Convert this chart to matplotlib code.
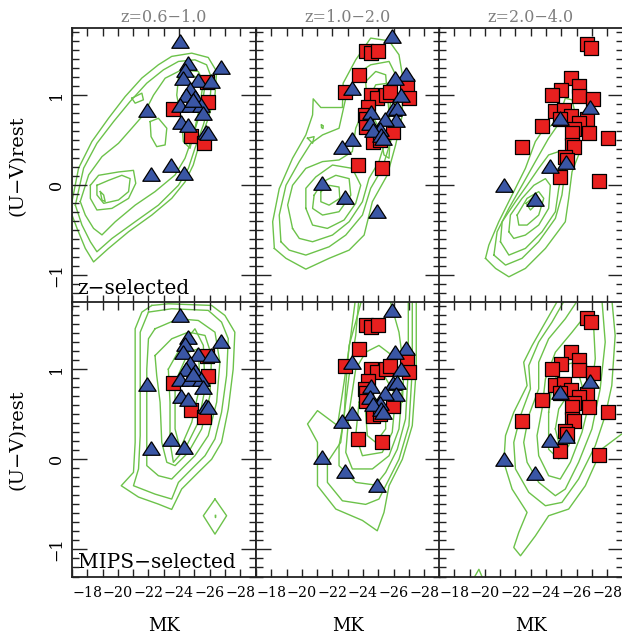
import matplotlib
matplotlib.use("Agg")
import matplotlib.pyplot as plt
from matplotlib.ticker import MultipleLocator

plt.rcParams['font.family'] = ['DejaVu Serif']

col_titles = ["z=0.6\u22121.0", "z=1.0\u22122.0", "z=2.0\u22124.0"]
row_labels = ["z\u2212selected", "MIPS\u2212selected"]

# ---- galaxies (same in both rows of a column) ----
sq_x = [
    [-25.8, -25.91, -23.63, -24.78, -25.65],
    [-24.17, -24.50, -25.00, -23.74, -22.83, -24.55, -24.93, -25.53, -25.74, -26.89,
     -27.00, -24.33, -24.11, -24.17, -24.22, -25.96, -24.65, -25.09, -23.70, -25.26],
    [-26.67, -26.96, -25.65, -26.13, -25.00, -24.39, -26.13, -27.10, -24.60, -25.20,
     -25.60, -24.90, -26.67, -26.13, -25.80, -25.70, -26.80, -23.74, -22.43, -28.04,
     -25.70, -25.80, -25.22, -25.40, -24.93, -27.48],
]
sq_y = [
    [1.15, 0.92, 0.85, 0.55, 0.47],
    [1.49, 1.47, 1.49, 1.22, 1.03, 1.00, 0.97, 1.00, 1.04, 1.10,
     0.97, 0.87, 0.78, 0.74, 0.65, 0.59, 0.48, 0.50, 0.23, 0.19],
    [1.57, 1.52, 1.19, 1.10, 1.06, 1.00, 0.99, 0.96, 0.82, 0.83,
     0.77, 0.74, 0.73, 0.69, 0.63, 0.58, 0.58, 0.66, 0.42, 0.53,
     0.45, 0.43, 0.31, 0.28, 0.09, 0.05],
]
tri_x = [
    [-24.07, -24.59, -26.77, -24.37, -24.26, -25.24, -26.11, -24.70, -24.48, -25.02,
     -24.04, -24.70, -25.46, -24.90, -21.89, -25.56, -24.16, -24.59, -25.79, -25.92,
     -22.15, -23.48, -24.35],
    [-25.91, -26.78, -26.09, -23.30, -26.46, -25.96, -26.24, -24.55, -26.18, -25.41,
     -24.44, -25.09, -24.65, -25.20, -25.30, -23.30, -22.61, -21.30, -22.83, -24.93],
    [-26.89, -24.93, -24.28, -25.30, -21.28, -23.30],
]
tri_y = [
    [1.60, 1.36, 1.31, 1.28, 1.19, 1.17, 1.16, 1.07, 1.00, 0.98,
     0.89, 0.89, 0.89, 0.95, 0.84, 0.80, 0.70, 0.67, 0.59, 0.58,
     0.13, 0.23, 0.14],
    [1.66, 1.24, 1.19, 1.08, 1.00, 0.85, 0.86, 0.81, 0.72, 0.74,
     0.69, 0.63, 0.61, 0.56, 0.52, 0.51, 0.43, 0.03, -0.13, -0.29],
    [0.87, 0.75, 0.21, 0.26, 0.00, -0.15],
]

# ---- density contours of the parent samples ----
closed_top = [
    [  # z=0.6-1.0
        [(-17, -0.18), (-17.43, 0.19), (-18.3, 0.485), (-19.39, 0.744), (-20.48, 0.985),
         (-21.57, 1.19), (-22.65, 1.337), (-23.52, 1.43), (-24.83, 1.466), (-25.91, 1.418),
         (-26.46, 1.263), (-26.35, 1.0), (-25.91, 0.744), (-25.37, 0.485), (-24.93, 0.225),
         (-24.39, 0.037), (-23.52, -0.145), (-22.22, -0.33), (-20.7, -0.515), (-19.39, -0.7),
         (-18.41, -0.85), (-17.87, -0.7), (-17.33, -0.478), (-17, -0.33)],
        [(-17.22, -0.22), (-17.76, 0.19), (-18.63, 0.466), (-19.72, 0.707), (-20.8, 0.93),
         (-21.89, 1.133), (-22.98, 1.281), (-23.96, 1.374), (-25.04, 1.392), (-25.8, 1.337),
         (-26.13, 1.188), (-26.02, 0.93), (-25.59, 0.67), (-25.04, 0.41), (-24.61, 0.188),
         (-23.96, 0.0), (-22.65, -0.22), (-21.13, -0.404), (-19.61, -0.59), (-18.63, -0.737),
         (-18.2, -0.626), (-17.65, -0.44)],
        [(-17.54, -0.18), (-18.09, 0.115), (-18.96, 0.318), (-20.04, 0.466), (-20.91, 0.633),
         (-21.67, 0.781), (-22.33, 1.0), (-23.09, 1.188), (-24.17, 1.281), (-25.26, 1.263),
         (-25.7, 1.115), (-25.48, 0.855), (-24.93, 0.559), (-24.39, 0.3), (-23.74, 0.115),
         (-22.43, -0.07), (-21.13, -0.22), (-19.83, -0.404), (-18.96, -0.55), (-18.41, -0.478),
         (-17.87, -0.33)],
        [(-18.2, 0.0), (-18.74, 0.111), (-20.04, 0.148), (-21.02, 0.166), (-21.17, 0.022),
         (-20.7, -0.145), (-19.61, -0.256), (-18.63, -0.274), (-18.2, -0.145)],
        [(-18.63, 0.0), (-19.39, 0.055), (-20.26, 0.111), (-20.8, 0.074), (-20.7, -0.07),
         (-20.04, -0.163), (-19.07, -0.2), (-18.63, -0.107)],
        [(-18.85, -0.07), (-19.07, -0.107), (-19.17, -0.18), (-18.96, -0.163)],
        [(-22.11, 0.707), (-22.65, 0.744), (-23.2, 0.633), (-23.09, 0.448), (-22.54, 0.429),
         (-22.17, 0.54)],
        [(-20.91, 0.966), (-21.57, 1.022), (-21.67, 0.948), (-21.13, 0.911)],
        [(-23.96, 1.188), (-24.83, 1.226), (-25.59, 1.151), (-25.37, 0.892), (-25.04, 0.633),
         (-24.72, 0.41), (-24.28, 0.485), (-24.17, 0.707), (-23.85, 1.0)],
    ],
    [  # z=1.0-2.0
        [(-18.2, -0.7), (-18.09, -0.404), (-18.52, -0.037), (-19.39, 0.3), (-20.26, 0.559),
         (-20.7, 0.781), (-20.74, 0.959), (-21.24, 0.863), (-22.65, 0.863), (-22.7, 1.133),
         (-23.52, 1.392), (-24.5, 1.633), (-25.7, 1.603), (-26.35, 1.448), (-26.57, 1.226),
         (-26.57, 0.781), (-26.13, 0.448), (-25.59, 0.115), (-24.61, -0.182), (-24.07, -0.552),
         (-23.09, -0.719), (-21.78, -0.81), (-20.26, -0.93), (-18.96, -0.81)],
        [(-18.63, -0.626), (-18.52, -0.33), (-18.96, 0.0), (-19.83, 0.263), (-20.59, 0.466),
         (-21.35, 0.559), (-22.43, 0.633), (-22.87, 0.966), (-23.52, 1.226), (-24.5, 1.337),
         (-25.7, 1.374), (-26.13, 1.226), (-26.13, 0.818), (-25.8, 0.485), (-25.26, 0.188),
         (-24.5, -0.033), (-23.96, -0.33), (-22.87, -0.552), (-21.78, -0.682), (-20.26, -0.774),
         (-19.17, -0.719)],
        [(-19.39, -0.478), (-19.07, -0.219), (-19.39, 0.0), (-20.26, 0.188), (-21.35, 0.263),
         (-22.43, 0.281), (-23.3, 0.374), (-23.52, 0.633), (-24.17, 0.892), (-24.83, 1.115),
         (-25.7, 1.133), (-25.8, 0.93), (-25.59, 0.559), (-25.04, 0.263), (-24.39, 0.077),
         (-23.96, -0.182), (-23.09, -0.404), (-22.0, -0.552), (-20.7, -0.626), (-19.83, -0.589)],
        [(-20.26, -0.256), (-20.26, -0.033), (-20.91, 0.093), (-22.0, 0.225), (-23.3, 0.188),
         (-23.85, 0.0), (-23.52, -0.2), (-22.76, -0.385), (-21.67, -0.478), (-20.7, -0.441)],
        [(-20.8, -0.11), (-21.35, 0.037), (-22.22, 0.111), (-23.09, 0.074), (-23.2, -0.11),
         (-22.43, -0.293), (-21.35, -0.33), (-20.7, -0.256)],
        [(-21.24, -0.07), (-21.78, 0.0), (-22.43, -0.019), (-22.48, -0.145), (-21.78, -0.22),
         (-21.24, -0.182)],
        [(-24.17, 1.151), (-24.83, 1.263), (-25.48, 1.226), (-25.59, 1.003), (-25.8, 0.633),
         (-25.7, 0.3), (-25.37, 0.337), (-25.04, 0.633), (-24.28, 0.892)],
        [(-21.28, 0.67), (-21.4, 0.66), (-21.38, 0.63), (-21.28, 0.64)],
        [(-20.37, 0.522), (-20.8, 0.54), (-20.7, 0.466)],
    ],
    [  # z=2.0-4.0
        [(-20.04, -0.81), (-20.26, -0.663), (-20.91, -0.404), (-21.78, -0.107), (-22.65, 0.188),
         (-23.3, 0.485), (-23.74, 0.596), (-24.39, 0.67), (-25.04, 0.855), (-25.26, 0.966),
         (-25.7, 0.948), (-26.13, 0.633), (-26.13, 0.337), (-25.7, 0.151), (-25.48, -0.145),
         (-25.26, -0.404), (-23.96, -0.7), (-22.65, -0.922), (-21.57, -1.015), (-20.7, -0.922)],
        [(-20.59, -0.774), (-20.8, -0.515), (-21.57, -0.256), (-22.43, 0.0), (-23.3, 0.263),
         (-24.17, 0.522), (-24.93, 0.707), (-25.48, 0.67), (-25.59, 0.41), (-25.26, 0.188),
         (-25.04, -0.107), (-24.61, -0.367), (-23.52, -0.626), (-22.43, -0.81), (-21.35, -0.885)],
        [(-21.02, -0.626), (-21.13, -0.404), (-22.0, -0.182), (-22.76, 0.0), (-23.52, 0.188),
         (-24.17, 0.337), (-24.83, 0.374), (-25.15, 0.225), (-24.83, -0.033), (-24.61, -0.293),
         (-23.74, -0.515), (-22.65, -0.7), (-21.57, -0.774)],
        [(-21.57, -0.515), (-21.67, -0.33), (-22.43, -0.145), (-23.2, 0.0), (-23.96, 0.074),
         (-24.28, 0.0), (-24.17, -0.256), (-23.52, -0.441), (-22.65, -0.552), (-21.89, -0.589)],
        [(-22.11, -0.33), (-22.76, -0.145), (-23.52, -0.07), (-23.85, -0.145), (-23.52, -0.33),
         (-22.76, -0.441), (-22.22, -0.441)],
        [(-22.7, -0.2), (-23.2, -0.126), (-23.41, -0.2), (-22.98, -0.274)],
    ],
]

closed_bot = [
    [  # z=0.6-1.0
        [(-22.22, 1.707), (-23.3, 1.725), (-26.13, 1.707), (-27.0, 1.596), (-27.65, 1.41),
         (-27.54, 1.0), (-27.22, 0.559), (-26.78, 0.188), (-26.13, 0.0), (-25.26, -0.145),
         (-24.17, -0.33), (-23.52, -0.556), (-22.65, -0.497), (-21.35, -0.419), (-20.22, -0.293),
         (-21.02, -0.145), (-21.13, 0.188), (-21.13, 1.0), (-21.13, 1.448), (-21.57, 1.633)],
        [(-22.0, 1.633), (-23.52, 1.67), (-25.91, 1.652), (-26.78, 1.522), (-27.22, 1.337),
         (-27.11, 0.93), (-26.78, 0.522), (-26.35, 0.226), (-25.7, 0.04), (-24.83, -0.107),
         (-23.96, -0.256), (-23.52, -0.441), (-22.43, -0.386), (-21.02, -0.293), (-21.35, -0.107),
         (-21.46, 0.263), (-21.46, 1.0), (-21.46, 1.41)],
        [(-22.43, 1.448), (-23.96, 1.559), (-25.26, 1.54), (-26.35, 1.41), (-26.67, 1.077),
         (-26.46, 0.633), (-25.91, 0.263), (-25.04, 0.04), (-24.17, -0.107), (-23.52, -0.219),
         (-22.65, -0.182), (-21.89, -0.07), (-21.89, 0.337), (-21.89, 1.0), (-22.0, 1.337)],
        [(-22.43, 1.151), (-23.52, 1.337), (-24.61, 1.411), (-25.7, 1.374), (-26.13, 1.151),
         (-26.02, 0.707), (-25.48, 0.337), (-24.61, 0.077), (-23.74, -0.07), (-23.2, -0.033),
         (-22.87, 0.188), (-22.76, 0.633), (-22.54, 0.93)],
        [(-23.3, 1.0), (-24.17, 1.263), (-25.04, 1.448), (-25.59, 1.263), (-25.7, 0.781),
         (-25.26, 0.411), (-24.39, 0.115), (-23.63, -0.033), (-23.41, 0.188), (-23.41, 0.633)],
        [(-23.74, 0.855), (-24.61, 1.188), (-25.26, 1.226), (-25.37, 0.818), (-24.83, 0.411),
         (-24.07, 0.115), (-23.74, 0.337)],
        [(-26.35, -0.441), (-27.11, -0.626), (-26.35, -0.83), (-25.59, -0.626)],
        [(-26.33, -0.615), (-26.37, -0.615), (-26.37, -0.635), (-26.33, -0.635)],
    ],
    [  # z=1.0-2.0
        [(-23.52, 1.0), (-24.17, 1.188), (-25.04, 1.263), (-25.91, 1.151), (-26.57, 0.781),
         (-26.35, 0.337), (-25.7, 0.04), (-24.61, -0.107), (-23.3, -0.107), (-22.87, 0.077),
         (-23.09, 0.522)],
        [(-23.74, 0.633), (-24.39, 0.93), (-25.26, 0.966), (-26.13, 0.707), (-25.91, 0.3),
         (-25.26, 0.077), (-23.96, 0.04), (-23.52, 0.263)],
        [(-24.17, 0.522), (-24.83, 0.67), (-25.48, 0.596), (-25.48, 0.337), (-24.83, 0.188),
         (-24.28, 0.263)],
    ],
    [  # z=2.0-4.0
        [(-26.57, 1.596), (-25.7, 1.41), (-24.61, 1.188), (-23.96, 0.892), (-23.74, 0.559),
         (-23.41, 0.263), (-23.52, 0.04), (-24.17, -0.182), (-24.93, -0.219), (-25.59, -0.033),
         (-26.35, 0.3), (-26.89, 0.67), (-27.22, 1.115), (-27.11, 1.485)],
        [(-24.17, 0.522), (-24.39, 0.818), (-25.04, 1.04), (-25.91, 1.077), (-26.35, 0.818),
         (-26.02, 0.411), (-25.48, 0.151), (-24.83, 0.003), (-24.17, 0.111)],
        [(-24.61, 0.337), (-24.83, 0.559), (-25.26, 0.67), (-25.59, 0.522), (-25.37, 0.263),
         (-24.93, 0.111)],
    ],
]

# contours that run out through the top / right edge of a panel
open_bot = [
    [],
    [
        [(-23.52, 1.8), (-23.2, 1.374), (-22.76, 0.855), (-22.33, 0.374), (-21.02, 0.54),
         (-20.37, 0.392), (-21.02, 0.188), (-21.02, -0.293), (-22.22, -0.552), (-23.96, -0.678),
         (-24.93, -0.793), (-25.37, -0.589), (-25.7, -0.293), (-26.57, 0.0), (-27.22, 0.374),
         (-27.48, 1.0), (-27.48, 1.8)],
        [(-23.74, 1.8), (-23.52, 1.374), (-23.09, 0.93), (-22.54, 0.188), (-21.67, -0.033),
         (-21.67, -0.256), (-22.65, -0.46), (-24.17, -0.5), (-25.04, -0.441), (-25.59, -0.256),
         (-26.35, 0.0), (-27.0, 0.374), (-27.22, 1.0), (-27.22, 1.8)],
        [(-23.96, 1.8), (-23.52, 1.522), (-23.09, 1.263), (-22.87, 0.818), (-22.76, 0.448),
         (-22.43, 0.151), (-22.43, -0.07), (-23.52, -0.256), (-24.83, -0.286), (-25.48, -0.145),
         (-26.24, 0.111), (-26.78, 0.448), (-26.96, 1.0), (-26.96, 1.8)],
        [(-25.7, 1.8), (-26.35, 1.41), (-26.67, 1.0), (-26.57, 0.633)],
    ],
    [
        [(-24.83, 1.78), (-23.96, 1.522), (-23.09, 1.263), (-22.54, 1.077), (-22.76, 0.818),
         (-21.89, 0.522), (-21.35, 0.263), (-21.24, -0.033), (-21.78, -0.33), (-22.76, -0.589),
         (-22.22, -0.81), (-21.89, -0.978), (-22.33, -1.07), (-23.3, -0.85), (-24.17, -0.626),
         (-25.48, -0.552), (-26.57, -0.293), (-27.65, 0.115), (-28.93, 0.278), (-29.2, 0.3)],
        [(-25.26, 1.78), (-24.39, 1.522), (-23.52, 1.3), (-22.87, 1.04), (-22.98, 0.781),
         (-22.33, 0.485), (-21.89, 0.188), (-22.0, -0.107), (-22.87, -0.367), (-23.96, -0.515),
         (-25.04, -0.478), (-26.13, -0.219), (-27.22, 0.151), (-27.87, 0.485), (-28.3, 0.818),
         (-28.52, 1.374), (-28.3, 1.78)],
        [(-26.13, 1.78), (-25.26, 1.559), (-24.17, 1.337), (-23.52, 1.077), (-23.52, 0.781),
         (-22.87, 0.485), (-22.54, 0.188), (-22.76, -0.033), (-23.52, -0.256), (-24.61, -0.404),
         (-25.26, -0.33), (-26.13, -0.033), (-27.0, 0.337), (-27.54, 0.781), (-27.87, 1.3),
         (-27.65, 1.78)],
        [(-19.17, -1.35), (-19.61, -1.22), (-19.93, -1.35)],
    ],
]

green = '#6cc24a'
red = '#e8201f'
blue = '#3a56a5'
tri_marker = [(0, 0.78), (-1, -0.78), (1, -0.78), (0, 0.78)]

fig = plt.figure(figsize=(6.22, 6.36), dpi=100)
W, H = 622.0, 636.0
lefts = [72, 256, 439]
tops = [28, 302]
pw, ph = 183.5, 274.5

for r in range(2):
    for c in range(3):
        ax = fig.add_axes([lefts[c] / W, 1 - (tops[r] + ph) / H, pw / W, ph / H])
        closed = closed_top[c] if r == 0 else closed_bot[c]
        opened = [] if r == 0 else open_bot[c]
        for path in closed:
            xs = [p[0] for p in path] + [path[0][0]]
            ys = [p[1] for p in path] + [path[0][1]]
            ax.plot(xs, ys, color=green, lw=1.0, zorder=1)
        for path in opened:
            ax.plot([p[0] for p in path], [p[1] for p in path], color=green, lw=1.0, zorder=1)
        ax.scatter(sq_x[c], sq_y[c], marker='s', s=9.4 ** 2, c=red,
                   edgecolors='black', linewidths=0.9, zorder=3)
        ax.scatter(tri_x[c], tri_y[c], marker=tri_marker, s=12.5 ** 2, c=blue,
                   edgecolors='black', linewidths=0.9, zorder=4)

        ax.set_xlim(-17, -29)
        ax.set_ylim(-1.3, 1.745)
        ax.xaxis.set_major_locator(MultipleLocator(2))
        ax.xaxis.set_minor_locator(MultipleLocator(1))
        ax.yaxis.set_major_locator(MultipleLocator(1))
        ax.yaxis.set_minor_locator(MultipleLocator(0.1))
        ax.tick_params(which='both', direction='in', top=True, right=True, width=1.0,
                       color='#222222')
        ax.tick_params(axis='x', which='both', length=6)
        ax.tick_params(axis='y', which='major', length=11)
        ax.tick_params(axis='y', which='minor', length=5)
        ax.tick_params(axis='x', labelsize=10.3, pad=7)
        ax.tick_params(axis='y', labelsize=11.5, pad=5, labelrotation=90)
        for sp in ax.spines.values():
            sp.set_linewidth(1.3)
            sp.set_color('#222222')
        if r == 0:
            ax.set_xticklabels([])
        if c > 0:
            ax.set_yticklabels([])
        else:
            for lab in ax.get_yticklabels():
                lab.set_va('center')
        if c == 0:
            ax.text(0.03, 0.015, row_labels[r], transform=ax.transAxes, fontsize=14.5,
                    ha='left', va='bottom', zorder=5)

for c in range(3):
    xc = (lefts[c] + pw / 2) / W
    fig.text(xc, 1 - 18 / H, col_titles[c], ha='center', va='center', fontsize=11.5,
             color='#7f7f7f')
    fig.text(xc, 1 - 626 / H, "MK", ha='center', va='center', fontsize=13)

for r in range(2):
    yc = 1 - (tops[r] + ph / 2) / H
    fig.text(18 / W, yc, "(U\u2212V)rest", rotation=90, ha='center', va='center', fontsize=14)

fig.savefig("out.png", dpi=100)
